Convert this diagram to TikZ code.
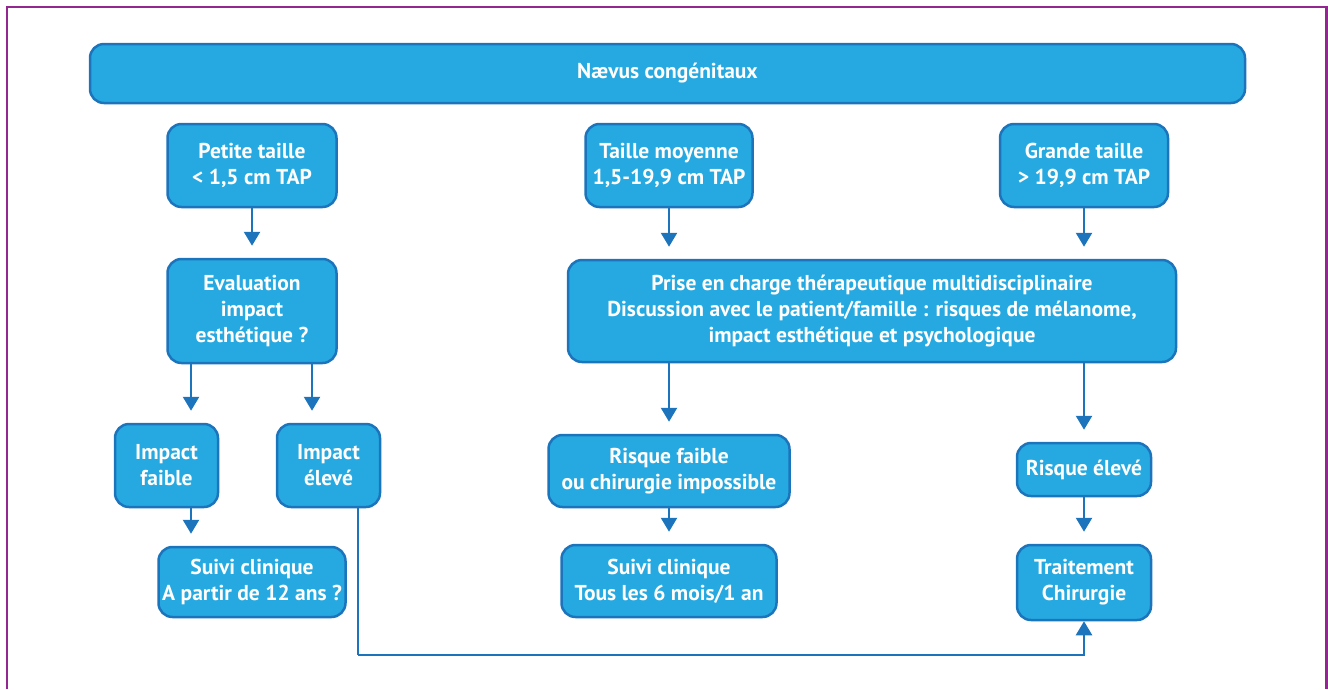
\documentclass[tikz,border=0pt]{standalone}
\usepackage{fontspec}
\setmainfont{PT Sans}
\usepackage{tikz}
\usetikzlibrary{positioning,arrows.meta,calc}
\definecolor{nvcyan}{HTML}{26A9E0}
\definecolor{nvblue}{HTML}{1C75BC}
\definecolor{nvpurple}{HTML}{92278F}
\tikzset{
  box/.style={draw=nvblue,fill=nvcyan,line width=2.5pt,rounded corners=14pt,text=white,font=\fontsize{21.5}{26}\selectfont\bfseries,align=center,inner sep=0pt},
  lnk/.style={-{Triangle[length=14pt,width=16pt]},line width=2.5pt,draw=nvblue,shorten >=12pt},
  lnkplain/.style={line width=2.5pt,draw=nvblue},
}
\begin{document}
\begin{tikzpicture}[x=1pt,y=-1pt]
  \useasboundingbox (0,0) rectangle (1328,689);
  \draw[nvpurple,line width=2.5pt] (7,689) -- (7,7) -- (1326.5,7) -- (1326.5,689);
  % top row
  \node[box,minimum width=1155pt,minimum height=59pt] (naevus) at (667.5,73.5) {Nævus congénitaux};
  \node[box,minimum width=169pt,minimum height=83pt] (petite) at (252,165.5) {Petite taille\\< 1,5 cm TAP};
  \node[box,minimum width=167pt,minimum height=83pt] (moyenne) at (669,165.5) {Taille moyenne\\1,5-19,9 cm TAP};
  \node[box,minimum width=168pt,minimum height=83pt] (grande) at (1084,165.5) {Grande taille\\> 19,9 cm TAP};
  % second row
  \node[box,minimum width=169pt,minimum height=104pt] (eval) at (252,311) {Evaluation\\impact\\esthétique ?};
  \node[box,minimum width=608pt,minimum height=102pt] (prise) at (872,311) {Prise en charge thérapeutique multidisciplinaire\\Discussion avec le patient/famille : risques de mélanome,\\impact esthétique et psychologique};
  % third row
  \node[box,minimum width=103pt,minimum height=83pt] (faible) at (166.5,465.5) {Impact\\faible};
  \node[box,minimum width=103pt,minimum height=83pt] (eleve) at (328.5,465.5) {Impact\\élevé};
  \node[box,minimum width=241pt,minimum height=72pt] (rfaible) at (669,471) {Risque faible\\ou chirurgie impossible};
  \node[box,minimum width=134pt,minimum height=53pt] (releve) at (1084,469.5) {Risque élevé};
  % bottom row
  \node[box,minimum width=187pt,minimum height=70pt] (suivia) at (252,582) {Suivi clinique\\A partir de 12 ans ?};
  \node[box,minimum width=215pt,minimum height=72pt] (suivib) at (669,581) {Suivi clinique\\Tous les 6 mois/1 an};
  \node[box,minimum width=134pt,minimum height=75pt] (traitement) at (1084,582.5) {Traitement\\Chirurgie};
  \coordinate (coude) at (358,655);
  % links
  \draw[lnk] (petite) -- (eval);
  \draw[lnk] (moyenne) -- (moyenne |- prise.north);
  \draw[lnk] (grande) -- (grande |- prise.north);
  \draw[lnk] ([xshift=-61pt]eval.south) -- ([xshift=-61pt]eval.south |- faible.north);
  \draw[lnk] ([xshift=60pt]eval.south) -- ([xshift=60pt]eval.south |- eleve.north);
  \draw[lnk] (prise.south -| rfaible) -- (rfaible);
  \draw[lnk] (prise.south -| releve) -- (releve);
  \draw[lnk] ([xshift=24.5pt]faible.south) -- ([xshift=24.5pt]faible.south |- suivia.north);
  \draw[lnk] (rfaible) -- (suivib);
  \draw[lnk] (releve) -- (traitement);
  \draw[lnkplain] (eleve.south -| coude) -- (coude);
  \draw[lnk,shorten >=0pt] (coude) -| (traitement.south);
\end{tikzpicture}
\end{document}
